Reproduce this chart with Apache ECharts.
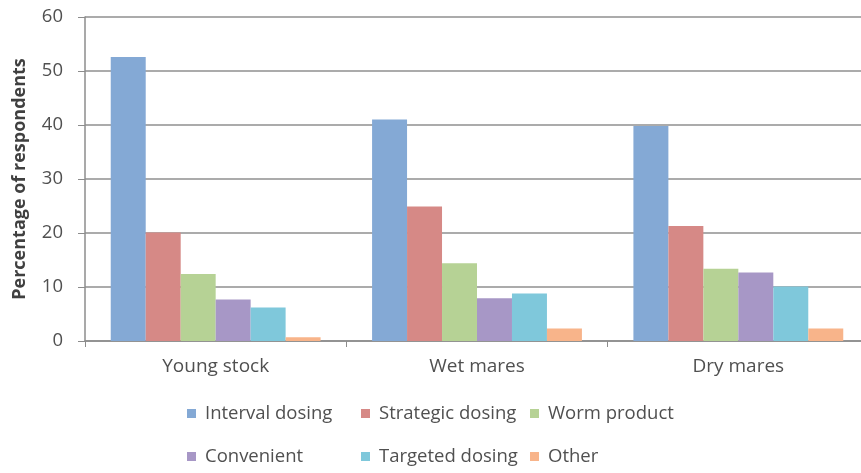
<!DOCTYPE html>
<html>
<head>
<meta charset="utf-8">
<script src="https://cdn.jsdelivr.net/npm/echarts@6/dist/echarts.min.js"></script>
<style>
  html, body { margin: 0; padding: 0; background: #ffffff; }
  #chart { width: 861px; height: 473px; }
</style>
</head>
<body>
<div id="chart"></div>
<script>
// Reasons for choosing a worming strategy, by group of horses
const categories = ['Young stock', 'Wet mares', 'Dry mares'];
const seriesNames = ['Interval dosing', 'Strategic dosing', 'Worm product', 'Convenient', 'Targeted dosing', 'Other'];
const intervalDosing  = [52.6, 41.0, 39.8];
const strategicDosing = [20.1, 24.9, 21.3];
const wormProduct     = [12.4, 14.4, 13.4];
const convenient      = [7.7, 7.9, 12.7];
const targetedDosing  = [6.2, 8.8, 10.1];
const other           = [0.7, 2.3, 2.3];
const yTicks = [0, 10, 20, 30, 40, 50, 60];

const seriesValues = [intervalDosing, strategicDosing, wormProduct, convenient, targetedDosing, other];
const colors = ['#84a9d5', '#d68986', '#b6d295', '#a797c6', '#7fc8db', '#f8b48a'];

// legend laid out as two rows of three columns
const legendSpots = [
  { left: 187, top: 404 }, { left: 361, top: 404 }, { left: 530, top: 404 },
  { left: 187, top: 447 }, { left: 361, top: 447 }, { left: 530, top: 447 }
];

const textColor = '#505050';
const fontFamily = '"Open Sans", "DejaVu Sans", sans-serif';

const chart = echarts.init(document.getElementById('chart'), null, { renderer: 'canvas' });

chart.setOption({
  animation: false,
  backgroundColor: '#ffffff',
  grid: {
    left: 85, top: 17, width: 784, height: 324,
    containLabel: false,
    outerBoundsMode: 'none'
  },
  legend: seriesNames.map((name, i) => ({
    data: [name],
    left: legendSpots[i].left,
    top: legendSpots[i].top,
    icon: 'rect',
    itemWidth: 9,
    itemHeight: 9,
    selectedMode: false,
    padding: 0,
    textStyle: { color: textColor, fontSize: 18.5, fontFamily: fontFamily, padding: [0, 0, 0, 4] }
  })),
  xAxis: {
    type: 'category',
    data: categories,
    axisLine: { show: true, lineStyle: { color: '#8c8c8c', width: 1.5 } },
    axisTick: { show: true, length: 6, alignWithLabel: false, lineStyle: { color: '#8c8c8c' } },
    axisLabel: { color: textColor, fontSize: 19, fontFamily: fontFamily, margin: 16 }
  },
  yAxis: {
    type: 'value',
    min: yTicks[0],
    max: yTicks[yTicks.length - 1],
    interval: yTicks[1] - yTicks[0],
    name: 'Percentage of respondents',
    nameLocation: 'middle',
    nameGap: 56,
    nameRotate: 90,
    nameTextStyle: { color: '#404040', fontSize: 18, fontWeight: 'bold', fontFamily: fontFamily },
    axisLine: { show: true, lineStyle: { color: '#8c8c8c', width: 1.5 } },
    axisTick: { show: true, length: 7, lineStyle: { color: '#8c8c8c' } },
    axisLabel: { color: textColor, fontSize: 18.5, fontFamily: fontFamily, margin: 22 },
    splitLine: { show: true, lineStyle: { color: '#8f8f8f', width: 1.5 } }
  },
  series: seriesNames.map((name, i) => ({
    name: name,
    type: 'bar',
    data: seriesValues[i],
    barGap: '0%',
    barCategoryGap: '19.7%',
    itemStyle: { color: colors[i] }
  }))
});
</script>
</body>
</html>
